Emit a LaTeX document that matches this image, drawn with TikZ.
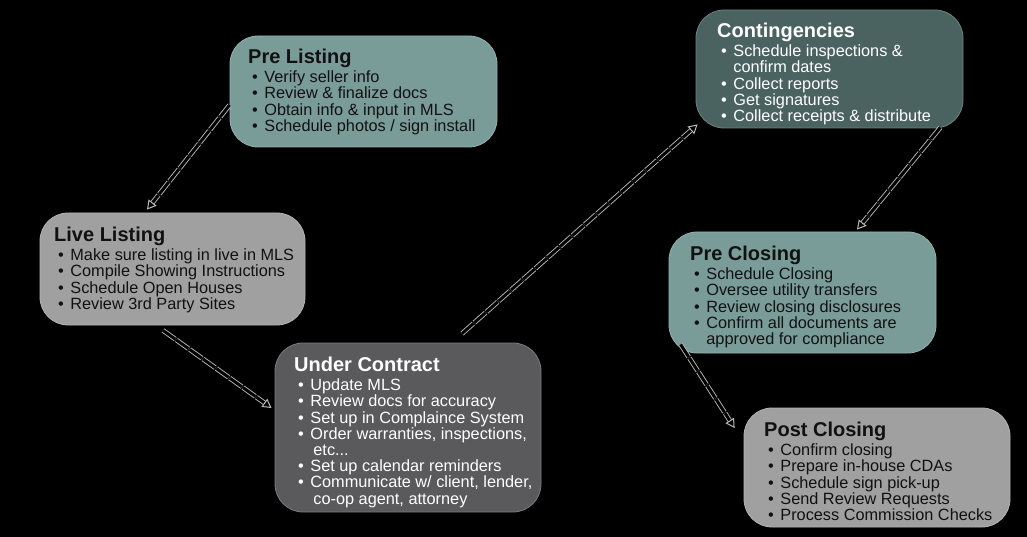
\documentclass[tikz,border=0pt]{standalone}
\usepackage{fontspec}
\setmainfont{Liberation Sans}
\usetikzlibrary{arrows.meta,calc}
\definecolor{tealbox}{RGB}{122,156,153}
\definecolor{darkteal}{RGB}{75,99,96}
\definecolor{boxgray}{RGB}{160,160,160}
\definecolor{darkbox}{RGB}{90,90,92}
\definecolor{ink}{RGB}{17,17,17}
\definecolor{chain}{RGB}{185,185,185}
\newcommand\itm[1]{\hspace*{4pt}\textbullet\hspace{6.5pt}#1}
\newcommand\cnt[1]{\hspace*{4pt}\phantom{\textbullet}\hspace{6.5pt}#1}
\newcommand\ttl[1]{{\fontsize{20}{20}\selectfont\bfseries #1}\\[3.4pt]}
\tikzset{
  box/.style={fill=#1, draw=#1!80!white, line width=0.8pt, rounded corners=28pt, inner sep=0pt},
  txt/.style={anchor=north west, align=left, inner sep=0pt, font=\fontsize{16.3}{16.2}\selectfont},
  flow/.style={draw=chain, double=black, double distance=3pt, line width=0.9pt,
    dash pattern=on 15pt off 1.4pt,
    -{Triangle[open, length=9pt, width=10pt, line width=1pt]}}
}
\begin{document}
\begin{tikzpicture}[x=1pt,y=-1pt]
\fill[black] (0,0) rectangle (1027,537);
\useasboundingbox (0,0) rectangle (1027,537);

% boxes
\node[box=tealbox, minimum width=267pt, minimum height=111pt] (pl) at (363.5,91.5) {};
\node[box=darkteal, minimum width=267pt, minimum height=118pt] (ct) at (829.5,69) {};
\node[box=boxgray, minimum width=265pt, minimum height=112pt] (ll) at (172.5,269) {};
\node[box=darkbox, minimum width=266pt, minimum height=169pt] (uc) at (408,427.5) {};
\node[box=tealbox, minimum width=267pt, minimum height=121pt] (pc) at (802.5,292.5) {};
\node[box=boxgray, minimum width=266pt, minimum height=119pt] (po) at (877,467.5) {};

% texts
\node[txt, text=ink] (plt) at (248,48.5) {\ttl{Pre Listing}
\itm{Verify seller info}\\
\itm{Review \& finalize docs}\\
\itm{Obtain info \& input in MLS}\\
\itm{Schedule photos / sign install}};

\node[txt, text=white] (ctt) at (717,22.5) {\ttl{Contingencies}
\itm{Schedule inspections \&}\\
\cnt{confirm dates}\\
\itm{Collect reports}\\
\itm{Get signatures}\\
\itm{Collect receipts \& distribute}};

\node[txt, text=ink] (llt) at (54,226.5) {\ttl{Live Listing}
\itm{Make sure listing in live in MLS}\\
\itm{Compile Showing Instructions}\\
\itm{Schedule Open Houses}\\
\itm{Review 3rd Party Sites}};

\node[txt, text=white] (uct) at (294,356.5) {\ttl{Under Contract}
\itm{Update MLS}\\
\itm{Review docs for accuracy}\\
\itm{Set up in Complaince System}\\
\itm{Order warranties, inspections,}\\
\cnt{\hspace{3pt}etc...}\\
\itm{Set up calendar reminders}\\
\itm{Communicate w/ client, lender,}\\
\cnt{\hspace{3pt}co-op agent, attorney}};

\node[txt, text=ink] (pct) at (690,245.5) {\ttl{Pre Closing}
\itm{Schedule Closing}\\
\itm{Oversee utility transfers}\\
\itm{Review closing disclosures}\\
\itm{Confirm all documents are}\\
\cnt{approved for compliance}};

\node[txt, text=ink] (pot) at (764,421.5) {\ttl{Post Closing}
\itm{Confirm closing}\\
\itm{Prepare in-house CDAs}\\
\itm{Schedule sign pick-up}\\
\itm{Send Review Requests}\\
\itm{Process Commission Checks}};

% connectors
\draw[flow] ($(pl.west)+(0,13.5)$) -- ($(ll.north)+(-25.5,-3)$);
\draw[flow] ($(ll.south)+(-9.5,5)$) -- ($(uc.west)+(-3,-19.5)$);
\draw[flow] ($(uc.north)+(54,-9)$) -- ($(ct.south west)+(2,-4)$);
\draw[flow] ($(ct.south east)+(-23,-1)$) -- ($(pc.north)+(54.5,-2)$);
\draw[flow] ($(pc.south west)+(12,-9)$) -- ($(po.west)+(-9,-39.5)$);
\end{tikzpicture}
\end{document}
